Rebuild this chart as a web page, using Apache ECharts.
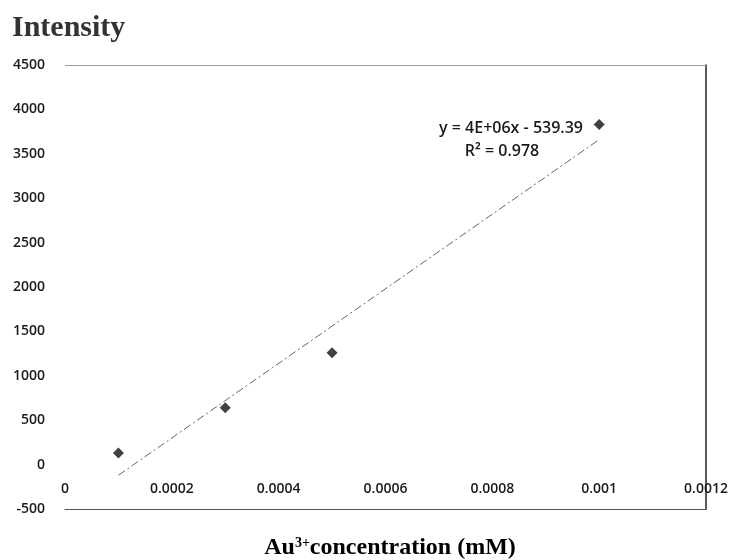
<!DOCTYPE html>
<html>
<head>
<meta charset="utf-8">
<script src="https://cdn.jsdelivr.net/npm/echarts@6/dist/echarts.min.js"></script>
<style>
  html, body { margin: 0; padding: 0; background: #fff; }
  #chart { width: 733px; height: 560px; }
</style>
</head>
<body>
<div id="chart"></div>
<script>
// measured points, Au3+ concentration (mM) vs intensity
const concentration = [0.0001, 0.0003, 0.0005, 0.001];
const intensity = [130, 640, 1260, 3830];

// linear trendline as drawn across the data range
const trendX = [0.0001, 0.001];
const trendY = [-120, 3660];

const eqText = 'y = 4E+06x - 539.39';
const r2Text = 'R\u00b2 = 0.978';

const labelFont = '"Open Sans", Lato, sans-serif';
const serifFont = '"Liberation Serif", "DejaVu Serif", serif';

const chart = echarts.init(document.getElementById('chart'));

chart.setOption({
  animation: false,
  backgroundColor: '#fff',
  grid: { left: 65, right: 27, top: 65, bottom: 51, show: false },
  xAxis: {
    type: 'value',
    min: 0,
    max: 0.0012,
    interval: 0.0002,
    // tick labels sit just under the zero line, inside the plot
    axisLine: { show: true, onZero: false, lineStyle: { color: '#555', width: 1.2 } },
    axisTick: { show: false },
    splitLine: { show: false },
    axisLabel: {
      margin: -27,
      color: '#1a1a1a',
      fontFamily: labelFont,
      fontSize: 14,
      fontWeight: 600,
      formatter: v => String(+v.toFixed(4))
    }
  },
  yAxis: [{
    type: 'value',
    min: -500,
    max: 4500,
    interval: 500,
    axisLine: { show: false },
    axisTick: { show: false },
    splitLine: { show: false },
    axisLabel: {
      margin: 20,
      color: '#1a1a1a',
      fontFamily: labelFont,
      fontSize: 14,
      fontWeight: 600,
      formatter: v => String(v)
    }
  }, {
    type: 'value',
    min: -500,
    max: 4500,
    position: 'right',
    axisLine: { show: true, onZero: false, lineStyle: { color: '#222', width: 1.5 } },
    axisTick: { show: false },
    axisLabel: { show: false },
    splitLine: { show: false }
  }],
  series: [{
    type: 'line',
    data: trendX.map((x, i) => [x, trendY[i]]),
    symbol: 'none',
    lineStyle: { color: '#666', width: 1, type: [8, 3, 2, 3] },
    markLine: {
      silent: true,
      symbol: 'none',
      label: { show: false },
      data: [
        { yAxis: 4500, lineStyle: { color: '#9a9a9a', width: 1, type: 'solid' } }
      ]
    },
    z: 1
  }, {
    type: 'scatter',
    data: concentration.map((x, i) => [x, intensity[i]]),
    symbol: 'diamond',
    symbolSize: 11,
    itemStyle: { color: '#111' },
    z: 3
  }],
  graphic: [{
    type: 'text',
    x: 12,
    y: 28,
    style: {
      text: 'Intensity',
      font: 'bold 30px ' + serifFont,
      fill: '#333',
      textVerticalAlign: 'middle'
    }
  }, {
    type: 'text',
    x: 583,
    y: 128,
    style: {
      text: eqText,
      font: '600 16px ' + labelFont,
      fill: '#1a1a1a',
      textAlign: 'right',
      textVerticalAlign: 'middle'
    }
  }, {
    type: 'text',
    x: 502,
    y: 151,
    style: {
      text: r2Text,
      font: '600 16px ' + labelFont,
      fill: '#1a1a1a',
      textAlign: 'center',
      textVerticalAlign: 'middle'
    }
  }, {
    type: 'text',
    x: 390,
    y: 548,
    style: {
      text: '{b|Au}{sup|3+}{b|concentration (mM)}',
      textAlign: 'center',
      textVerticalAlign: 'middle',
      rich: {
        b: { fontSize: 24, fontWeight: 'bold', fontFamily: serifFont, color: '#333' },
        sup: { fontSize: 14, fontWeight: 'bold', fontFamily: serifFont, color: '#333', padding: [0, 0, 10, 0] }
      }
    }
  }]
});
</script>
</body>
</html>
